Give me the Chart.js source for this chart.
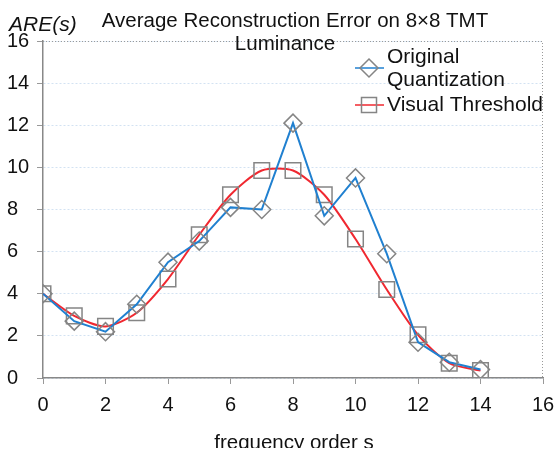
<!DOCTYPE html>
<html>
<head>
<meta charset="utf-8">
<script src="https://cdn.jsdelivr.net/npm/chart.js@4/dist/chart.umd.min.js"></script>
<style>
  html, body { margin: 0; padding: 0; background: #fff; }
  #wrap { position: relative; width: 557px; height: 452px; }
</style>
</head>
<body>
<div id="wrap"><canvas id="chart" width="557" height="452"></canvas></div>
<script>
const freqOrder = [0, 1, 2, 3, 4, 5, 6, 7, 8, 9, 10, 11, 12, 13, 14];
const originalQuant = [4.0, 2.7, 2.2, 3.5, 5.5, 6.5, 8.1, 8.0, 12.1, 7.7, 9.5, 5.9, 1.7, 0.75, 0.4];
const visualThreshold = [4.0, 2.95, 2.45, 3.1, 4.7, 6.8, 8.7, 9.85, 9.85, 8.7, 6.6, 4.2, 2.05, 0.7, 0.35];
const tickValues = [0, 2, 4, 6, 8, 10, 12, 14, 16];

const FONT = "'Liberation Sans', Arial, sans-serif";
const BLUE = '#2080d0';
const RED = '#f02830';
const MARK = '#858585';

const toPoints = vals => freqOrder.map((x, i) => ({ x: x, y: vals[i] }));

// titles, axis labels, dotted frame and legend
const decorations = {
    id: 'decorations',
    afterDraw(chart) {
        const ctx = chart.ctx;
        const a = chart.chartArea;
        ctx.save();

        // dotted frame on top and right
        ctx.strokeStyle = '#9a9a9a';
        ctx.lineWidth = 1;
        ctx.setLineDash([1, 2]);
        ctx.beginPath();
        ctx.moveTo(a.left, a.top + 0.5);
        ctx.lineTo(a.right - 0.5, a.top + 0.5);
        ctx.lineTo(a.right - 0.5, a.bottom);
        ctx.stroke();
        ctx.setLineDash([]);

        ctx.fillStyle = '#111';
        ctx.textAlign = 'center';
        ctx.textBaseline = 'alphabetic';
        ctx.font = '20.5px ' + FONT;
        ctx.fillText('Average Reconstruction Error on 8\u00d78 TMT', 295, 27);
        ctx.fillText('Luminance', 285, 50);
        ctx.fillText('frequency order s', 294, 448.5);
        // the source image crops the bottom of the axis title
        ctx.fillStyle = '#fff';
        ctx.fillRect(150, 448, 300, 4);
        ctx.fillStyle = '#111';

        ctx.textAlign = 'left';
        ctx.font = 'italic 21px ' + FONT;
        ctx.fillText('ARE(s)', 9, 31);

        // legend
        const lx = 369;
        ctx.font = '21px ' + FONT;
        ctx.textBaseline = 'middle';
        ctx.lineWidth = 1.5;
        ctx.strokeStyle = BLUE;
        ctx.beginPath(); ctx.moveTo(355, 68); ctx.lineTo(384, 68); ctx.stroke();
        ctx.strokeStyle = MARK;
        ctx.beginPath();
        ctx.moveTo(lx, 59); ctx.lineTo(lx + 9, 68); ctx.lineTo(lx, 77); ctx.lineTo(lx - 9, 68); ctx.closePath();
        ctx.stroke();
        ctx.fillText('Original', 387, 57);
        ctx.fillText('Quantization', 387, 80);

        ctx.strokeStyle = RED;
        ctx.beginPath(); ctx.moveTo(355, 105); ctx.lineTo(384, 105); ctx.stroke();
        ctx.strokeStyle = MARK;
        ctx.strokeRect(lx - 7.5, 97.5, 15, 15);
        ctx.fillText('Visual Threshold', 387, 105);

        ctx.restore();
    }
};

new Chart(document.getElementById('chart'), {
    type: 'line',
    data: {
        datasets: [
            {
                label: 'Original Quantization',
                data: toPoints(originalQuant),
                borderColor: BLUE,
                borderWidth: 2,
                tension: 0,
                pointStyle: 'rectRot',
                pointRadius: 9,
                pointBorderColor: MARK,
                pointBorderWidth: 1.5,
                pointBackgroundColor: 'rgba(0,0,0,0)'
            },
            {
                label: 'Visual Threshold',
                data: toPoints(visualThreshold),
                borderColor: RED,
                borderWidth: 2,
                tension: 0.25,
                pointStyle: 'rect',
                pointRadius: 11,
                pointBorderColor: MARK,
                pointBorderWidth: 1.5,
                pointBackgroundColor: 'rgba(0,0,0,0)'
            }
        ]
    },
    options: {
        responsive: false,
        animation: false,
        events: [],
        layout: { padding: { top: 41, right: 14, left: 7, bottom: 0 } },
        scales: {
            x: {
                type: 'linear',
                min: 0,
                max: 16,
                afterBuildTicks: s => { s.ticks = tickValues.map(v => ({ value: v })); },
                afterFit: s => { s.height = 74; s.paddingLeft = 0; s.paddingRight = 0; },
                grid: { drawOnChartArea: false, tickLength: 6, color: '#999' },
                border: { color: '#888', width: 1.5 },
                ticks: { color: '#111', font: { family: FONT, size: 20 }, padding: 9, maxRotation: 0 }
            },
            y: {
                type: 'linear',
                min: 0,
                max: 16,
                afterBuildTicks: s => { s.ticks = tickValues.map(v => ({ value: v })); },
                afterFit: s => { s.width = 36; },
                grid: {
                    color: '#d3e2f2',
                    tickColor: '#999',
                    tickLength: 6
                },
                border: { color: '#888', width: 1.5, dash: [2, 2] },
                ticks: { color: '#111', font: { family: FONT, size: 20 }, padding: 4, crossAlign: 'far' }
            }
        },
        plugins: {
            legend: { display: false },
            title: { display: false },
            tooltip: { enabled: false }
        }
    },
    plugins: [decorations]
});
</script>
</body>
</html>
